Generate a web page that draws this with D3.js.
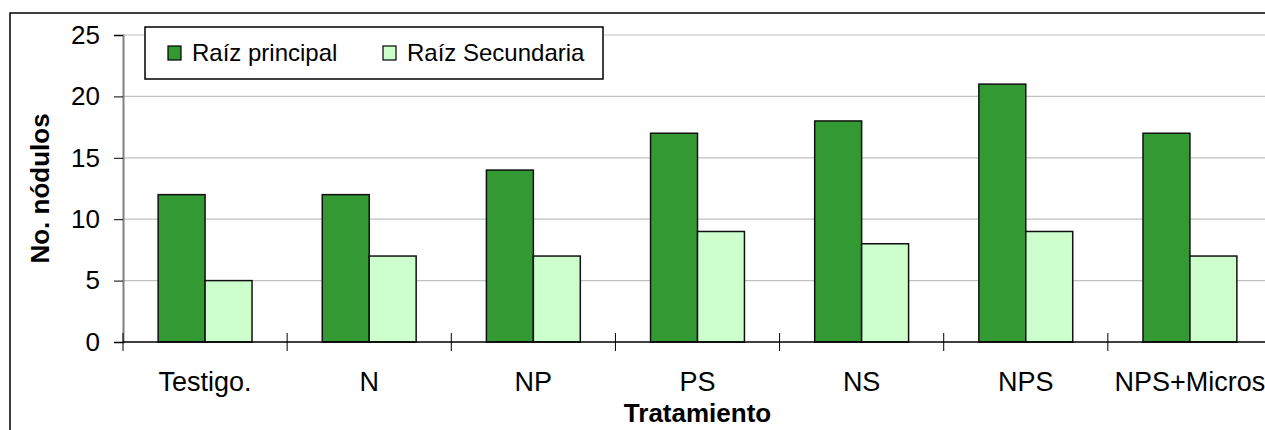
<!DOCTYPE html>
<html>
<head>
<meta charset="utf-8">
<script src="https://cdn.jsdelivr.net/npm/d3@7"></script>
<style>
  body { margin: 0; background: #fff; }
  text { font-family: Arial, "Liberation Sans", sans-serif; }
</style>
</head>
<body>
<svg id="chart" width="1265" height="430"></svg>
<script>
// data
var categories = ["Testigo.", "N", "NP", "PS", "NS", "NPS", "NPS+Micros"];
var series = ["Raíz principal", "Raíz Secundaria"];
var principal = [12, 12, 14, 17, 18, 21, 17];
var secundaria = [5, 7, 7, 9, 8, 9, 7];
var yTicks = [0, 5, 10, 15, 20, 25];
var colors = ["#339933", "#ccffcc"];

(function () {
  var svg = d3.select("#chart");
  var mLeft = 123, mRight = 1272, mTop = 35, mBottom = 342;

  // outer chart frame
  svg.append("rect")
    .attr("x", 10).attr("y", 13)
    .attr("width", 1300).attr("height", 500)
    .attr("fill", "none").attr("stroke", "#000").attr("stroke-width", 1.5);

  var x = d3.scaleBand().domain(categories).range([mLeft, mRight]);
  var bw = x.bandwidth();
  var x1 = d3.scaleBand().domain(series).range([bw * 0.214, bw * 0.786]);
  var y = d3.scaleLinear().domain([0, 25]).range([mBottom, mTop]);

  // gridlines
  svg.append("g").selectAll("line").data(yTicks.slice(1)).enter().append("line")
    .attr("x1", mLeft).attr("x2", 1265)
    .attr("y1", function(d) { return y(d); }).attr("y2", function(d) { return y(d); })
    .attr("stroke", "#c0c0c0").attr("stroke-width", 1.2);

  // y axis
  var yAxis = svg.append("g").attr("transform", "translate(" + mLeft + ",0)")
    .call(d3.axisLeft(y).tickValues(yTicks).tickSize(9).tickPadding(14));
  yAxis.select(".domain").attr("stroke", "#808080").attr("stroke-width", 2);
  yAxis.selectAll(".tick line").attr("stroke", "#000");
  yAxis.selectAll("text").attr("font-size", 26).attr("fill", "#000")
    .attr("font-family", "Arial, 'Liberation Sans', sans-serif");

  // bars
  var rows = categories.map(function(c, i) { return { cat: c, vals: [principal[i], secundaria[i]] }; });
  var grp = svg.append("g").selectAll("g").data(rows).enter().append("g")
    .attr("transform", function(d) { return "translate(" + x(d.cat) + ",0)"; });
  grp.selectAll("rect").data(function(d) { return d.vals; }).enter().append("rect")
    .attr("x", function(d, i) { return x1(series[i]); })
    .attr("width", x1.bandwidth())
    .attr("y", function(d) { return y(d); })
    .attr("height", function(d) { return mBottom - y(d); })
    .attr("fill", function(d, i) { return colors[i]; })
    .attr("stroke", "#111").attr("stroke-width", 1.5);

  // x axis line and crossing ticks
  svg.append("line").attr("x1", mLeft).attr("x2", 1265).attr("y1", mBottom).attr("y2", mBottom)
    .attr("stroke", "#000").attr("stroke-width", 1.5);
  svg.append("g").selectAll("line").data(categories).enter().append("line")
    .attr("x1", function(d) { return x(d); }).attr("x2", function(d) { return x(d); })
    .attr("y1", mBottom - 9).attr("y2", mBottom + 9)
    .attr("stroke", "#000").attr("stroke-width", 1);
  svg.append("g").selectAll("text").data(categories).enter().append("text")
    .attr("x", function(d) { return x(d) + bw / 2; })
    .attr("y", 391)
    .attr("text-anchor", "middle").attr("font-size", 27)
    .text(function(d) { return d; });

  // axis titles
  svg.append("text").attr("x", (mLeft + mRight) / 2).attr("y", 422)
    .attr("text-anchor", "middle").attr("font-size", 26).attr("font-weight", "bold")
    .text("Tratamiento");
  svg.append("text").attr("transform", "translate(49," + (mTop + mBottom) / 2 + ") rotate(-90)")
    .attr("text-anchor", "middle").attr("font-size", 26).attr("font-weight", "bold")
    .text("No. nódulos");

  // legend
  var legend = svg.append("g");
  legend.append("rect").attr("x", 145).attr("y", 27).attr("width", 458).attr("height", 52)
    .attr("fill", "#fff").attr("stroke", "#000").attr("stroke-width", 1.5);
  var legX = [168, 383];
  series.forEach(function(s, i) {
    legend.append("rect").attr("x", legX[i]).attr("y", 46).attr("width", 13).attr("height", 14)
      .attr("fill", colors[i]).attr("stroke", "#000").attr("stroke-width", 1.2);
    legend.append("text").attr("x", legX[i] + 24).attr("y", 61)
      .attr("font-size", 24).text(s);
  });
}());
</script>
</body>
</html>
